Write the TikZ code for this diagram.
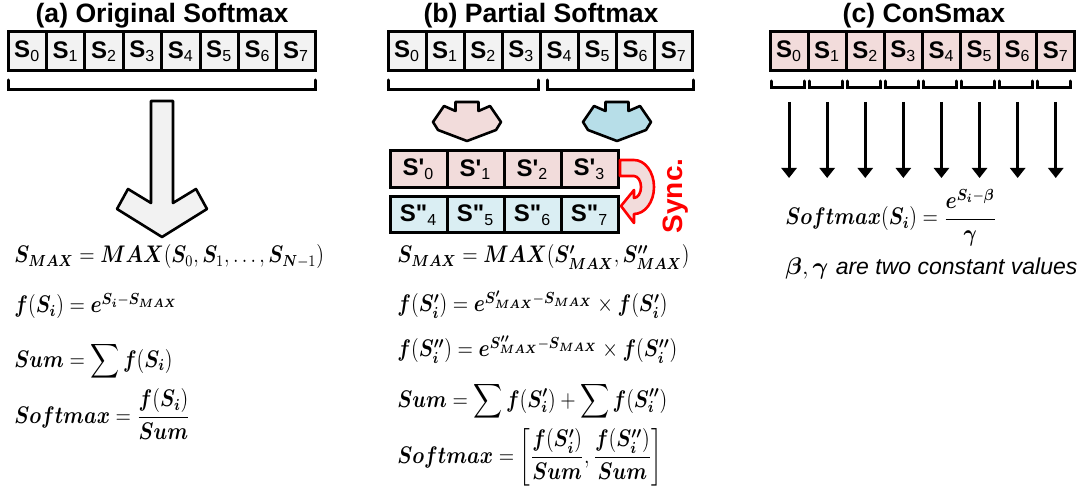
\documentclass[tikz,border=0pt]{standalone}
\usepackage{amsmath}
\usepackage{graphicx}
\usepackage{fontspec}
\usepackage{bm}
\newfontfamily\arialfont{Liberation Sans}
\usetikzlibrary{arrows.meta,positioning}
\definecolor{cellgray}{HTML}{F2F2F2}
\definecolor{cellpink}{HTML}{F2DCDB}
\definecolor{cellblue}{HTML}{DAEEF3}
\definecolor{chevblue}{HTML}{B7DEE8}
\newcommand{\eqfit}[1]{\scalebox{0.84}[1]{#1}}
\tikzset{
    %Define standard arrow tip
    >={Triangle[width=7.5pt,length=5pt]},
    %Define style for titles and cells
    titlenode/.style={
             anchor=base, inner sep=0pt,
             font=\arialfont\bfseries\fontsize{13.3}{15}\selectfont},
    cellbox/.style={
             draw=black, line width=1.5pt,
             minimum height=19.5pt, inner sep=0pt, outer sep=0pt,
             font=\arialfont\bfseries\fontsize{12}{14}\selectfont},
    eqnode/.style={
             anchor=base west, inner sep=0pt,
             font=\fontsize{12}{14}\selectfont},
    % Define line styles
    bracket/.style={
            line width=1.5pt, line cap=round},
    blockarrow/.style={
            draw=black, line width=1.3pt, line join=round},
    syncarrow/.style={
            draw=red, line width=1.3pt, fill=cellpink, line join=round},
    downarrow/.style={
            ->, line width=1.5pt}
}
\begin{document}
\begin{tikzpicture}[x=0.5pt, y=-0.5pt]
 \useasboundingbox (0,0) rectangle (1085,496);
 \node[titlenode] (titlea) at (162,23) {(a) Original Softmax};
 \node[titlenode] (titleb) at (541,23) {(b) Partial Softmax};
 \node[titlenode] (titlec) at (924,23) {(c) ConSmax};
 % input rows
 \foreach \i in {0,...,7} {
   \node[cellbox, fill=cellgray, minimum width=19.2pt] (a\i) at (27.2+38.4*\i,51.5) {S\textsubscript{\mdseries\i}};
   \node[cellbox, fill=cellgray, minimum width=19.05pt] (b\i) at (407.05+38.1*\i,51.5) {S\textsubscript{\mdseries\i}};
   \node[cellbox, fill=cellpink, minimum width=19.05pt] (c\i) at (789.05+38.1*\i,51.5) {S\textsubscript{\mdseries\i}};
 }
 % partial rows
 \foreach \i in {0,...,3}
   \node[cellbox, fill=cellpink, minimum width=28.5pt, minimum height=18.5pt] (p\i) at (418.5+57*\i,169.5) {S\textquotesingle\textsubscript{\mdseries\i}};
 \foreach \i/\j in {0/4,1/5,2/6,3/7}
   \node[cellbox, fill=cellblue, minimum width=28.5pt, minimum height=18pt] (q\j) at (418.5+57*\i,215) {S\textquotedbl\textsubscript{\mdseries\j}};
 % brackets
 \draw[bracket] (8,80) |- (315,90) -- (315,80);
 \draw[bracket] (388,80) |- (538,90) -- (538,80);
 \draw[bracket] (547,80) |- (693,90) -- (693,80);
 \foreach \i in {0,...,7}
   \draw[bracket] (c\i.south west) ++(1,10) -- ++(0,7) -- ++(33,0) -- ++(0,-7);
 % block arrows
 \draw[blockarrow, fill=cellgray] (151,101) -- (173,101) -- (173,203) -- (196,189) -- (207,209) -- (162,237) -- (117,209) -- (128,189) -- (151,203) -- cycle;
 \foreach \cx/\col in {467/cellpink, 617/chevblue}
   \draw[blockarrow, fill=\col, shift={(\cx,0)}] (-11.5,102) -- (11.5,102) -- (11.5,111) -- (23,106) -- (34,122) -- (29,130) -- (0,141) -- (-29,130) -- (-34,122) -- (-23,106) -- (-11.5,111) -- cycle;
 \draw[syncarrow] (620,160) -- (634,160) arc[start angle=-90, end angle=90, x radius=20, y radius=27] -- (634,223) -- (621,206) -- (634,190) -- (634,198) arc[start angle=90, end angle=-90, x radius=7, y radius=11] -- (620,176) -- cycle;
 \node[rotate=90, text=red, font=\arialfont\bfseries\fontsize{14}{16}\selectfont] (sync) at (676,196) {Sync.};
 \foreach \i in {0,...,7}
   \draw[downarrow] (c\i.south) ++(0,31) -- ++(0,76);
 % equations
 \node[eqnode] (eqa1) at (14,263) {\eqfit{$\bm{S_{MAX}} = \bm{MAX}(\bm{S}_0, \bm{S}_1, \ldots, \bm{S}_{\bm{N}-1})$}};
 \node[eqnode] (eqa2) at (14,313) {\eqfit{$\bm{f}(\bm{S_i}) = \bm{e}^{\bm{S_i}-\bm{S_{MAX}}}$}};
 \node[eqnode] (eqa3) at (14,367) {\eqfit{$\bm{Sum} = \displaystyle\sum \bm{f}(\bm{S_i})$}};
 \node[eqnode] (eqa4) at (14,423) {\eqfit{$\bm{Softmax} = \dfrac{\bm{f}(\bm{S_i})}{\bm{Sum}}$}};
 \node[eqnode] (eqb1) at (397,263) {\eqfit{$\bm{S_{MAX}} = \bm{MAX}(\bm{S'_{MAX}}, \bm{S''_{MAX}})$}};
 \node[eqnode] (eqb2) at (397,312) {\eqfit{$\bm{f}(\bm{S'_i}) = \bm{e}^{\bm{S'_{MAX}}-\bm{S_{MAX}}} \times \bm{f}(\bm{S'_i})$}};
 \node[eqnode] (eqb3) at (397,357) {\eqfit{$\bm{f}(\bm{S''_i}) = \bm{e}^{\bm{S''_{MAX}}-\bm{S_{MAX}}} \times \bm{f}(\bm{S''_i})$}};
 \node[eqnode] (eqb4) at (397,407) {\eqfit{$\bm{Sum} = \displaystyle\sum \bm{f}(\bm{S'_i}) + \sum \bm{f}(\bm{S''_i})$}};
 \node[eqnode] (eqb5) at (397,463) {\eqfit{$\bm{Softmax} = \left[\dfrac{\bm{f}(\bm{S'_i})}{\bm{Sum}}, \dfrac{\bm{f}(\bm{S''_i})}{\bm{Sum}}\right]$}};
 \node[eqnode] (eqc) at (785,225) {\eqfit{$\bm{Softmax}(\bm{S_i}) = \dfrac{\bm{e}^{\bm{S_i}-\bm{\beta}}}{\bm{\gamma}}$}};
 \node[eqnode, font=\fontsize{11.5}{13}\selectfont] (note) at (785,275) {$\bm{\beta},\bm{\gamma}$ {\arialfont\itshape are two constant values}};
\end{tikzpicture}
\end{document}
